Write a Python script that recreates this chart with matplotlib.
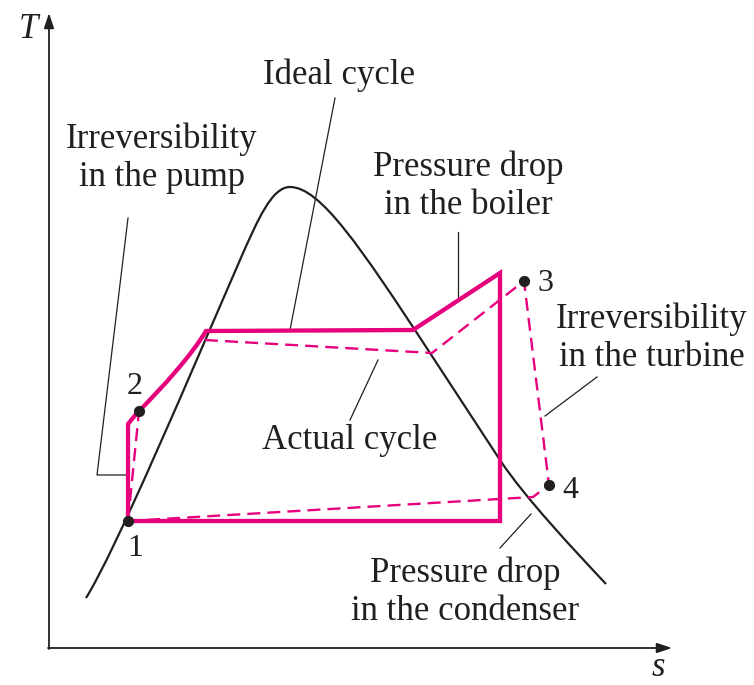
import matplotlib
matplotlib.use("Agg")
import matplotlib.pyplot as plt
from matplotlib.path import Path
from matplotlib.patches import PathPatch

# ---- data (schematic coordinates, y grows downwards like the picture) ----
# saturation dome: start point followed by cubic Bezier segments (ctrl1, ctrl2, end)
dome_start = (86, 598)
dome_segments = [
    ((116, 550), (190, 375), (240, 260)),
    ((258, 219), (272, 187), (290, 187)),
    ((320, 187), (360, 246), (430, 353)),
    ((453, 388), (477, 425), (500, 460)),
    ((525, 498), (576, 552), (606, 584)),
]

# ideal cycle: 1 -> 2s (vertical), heating curve, evaporation, superheat, turbine, condenser
ideal_s = [128, 128, 137]
ideal_T = [522, 424, 413]
ideal_heat_curve = ((162, 388), (191, 356), (206, 331))
ideal_rest_s = [413, 500, 500, 128]
ideal_rest_T = [330, 273, 521, 521]

# actual cycle (dashed)
pump_s = [128, 139]
pump_T = [521, 411]
actual_s = [205, 432, 524, 549, 533, 128]
actual_T = [340, 353, 281, 485, 497, 521]

state_labels = ["1", "2", "3", "4"]
state_s = [128, 139, 524, 549]
state_T = [521, 411, 281, 485]
label_s = [135, 135, 545, 570]
label_T = [548, 386, 283, 490]

annotations = [
    ("Ideal cycle", (339, 75), [(335, 98), (290, 330)]),
    ("Irreversibility\nin the pump", (162, 158), [(128, 218), (97, 475), (128, 475)]),
    ("Pressure drop\nin the boiler", (468, 186), [(458, 232), (458, 299)]),
    ("Irreversibility\nin the turbine", (652, 338), [(597, 377), (545, 416)]),
    ("Actual cycle", (350, 440), [(350, 420), (378, 360)]),
    ("Pressure drop\nin the condenser", (465, 592), [(500, 548), (531, 514)]),
]

PINK = "#E6007E"
INK = "#231F20"
SERIF = ["Liberation Serif", "DejaVu Serif"]
FS = 25

fig = plt.figure(figsize=(7.54, 6.85), dpi=100)
ax = fig.add_axes([0, 0, 1, 1])
ax.set_xlim(0, 754)
ax.set_ylim(685, 0)
ax.axis("off")

# axes arrows
arrow = dict(arrowstyle="-|>,head_length=0.9,head_width=0.3", color=INK, lw=1.3,
             shrinkA=0, shrinkB=0)
ax.annotate("", xy=(49, 13), xytext=(49, 649), arrowprops=arrow)
ax.annotate("", xy=(672, 648), xytext=(48, 648), arrowprops=arrow)
ax.text(28, 29, "T", fontsize=FS, style="italic", family=SERIF, color=INK,
        ha="center", va="center")
ax.text(658, 668, "s", fontsize=FS, style="italic", family=SERIF, color=INK,
        ha="center", va="center")

# saturation dome
verts = [dome_start]
codes = [Path.MOVETO]
for c1, c2, end in dome_segments:
    verts += [c1, c2, end]
    codes += [Path.CURVE4] * 3
ax.add_patch(PathPatch(Path(verts, codes), fill=False, edgecolor=INK, lw=1.6))

# actual cycle (dashed)
ax.plot(pump_s, pump_T, color=PINK, lw=1.7, dashes=(5.5, 3), zorder=2)
ax.plot(actual_s, actual_T, color=PINK, lw=1.7, dashes=(5.5, 3), zorder=2)

# ideal cycle (solid, thick)
iv = list(zip(ideal_s, ideal_T))
ic = [Path.MOVETO] + [Path.LINETO] * (len(iv) - 1)
iv += list(ideal_heat_curve)
ic += [Path.CURVE4] * 3
iv += list(zip(ideal_rest_s, ideal_rest_T))
ic += [Path.LINETO] * len(ideal_rest_s)
ax.add_patch(PathPatch(Path(iv, ic), fill=False, edgecolor=PINK, lw=3.1,
                       joinstyle="miter", capstyle="butt", zorder=3))

# state points
ax.scatter(state_s, state_T, s=65, color=INK, zorder=5, linewidths=0)
for lab, x, y in zip(state_labels, label_s, label_T):
    ax.text(x, y, lab, fontsize=23, family=SERIF, color=INK, ha="center", va="center")

# annotations
for txt, (tx, ty), pts in annotations:
    ax.text(tx, ty, txt, fontsize=FS, family=SERIF, color=INK, ha="center",
            va="center", linespacing=1.2)
    ax.plot([p[0] for p in pts], [p[1] for p in pts], color=INK, lw=0.9)

fig.savefig("out.png", dpi=100)
